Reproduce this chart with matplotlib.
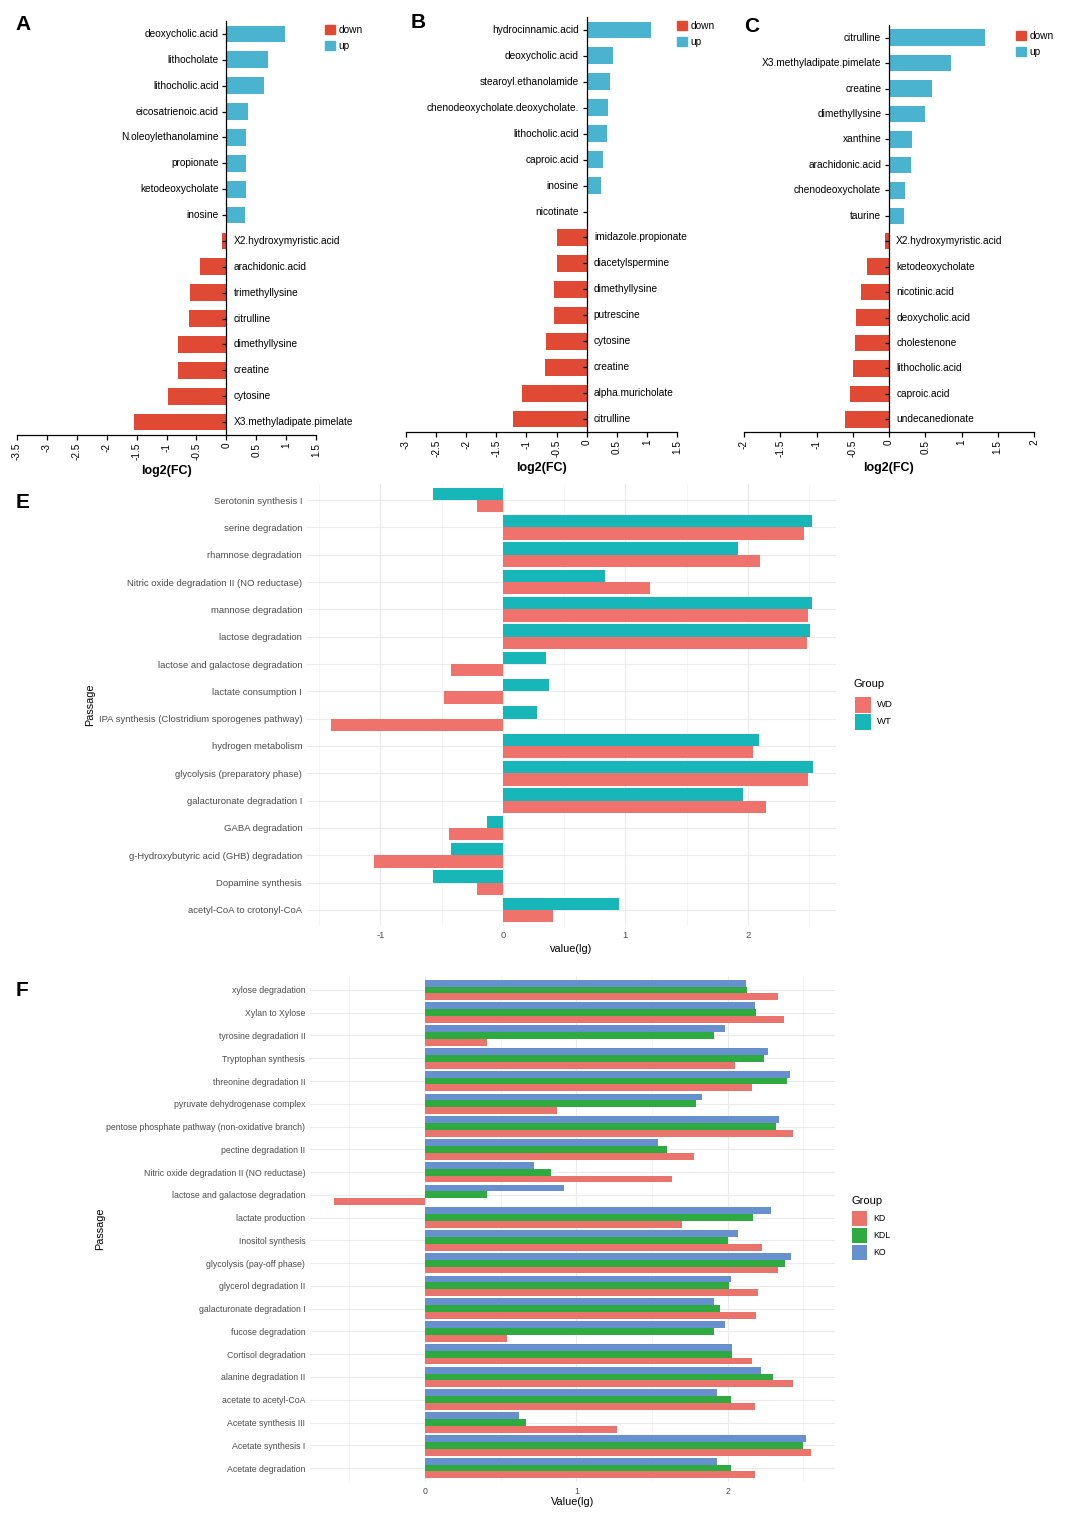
import matplotlib
matplotlib.use("Agg")
import matplotlib.pyplot as plt
from matplotlib.patches import Patch, Rectangle
import numpy as np

plt.rcParams['font.family'] = ['Liberation Sans', 'DejaVu Sans']

# ── 데이터 : A/B/C log2(FC) ─────────────────────────────────────────────
A_names = ["deoxycholic.acid", "lithocholate", "lithocholic.acid", "eicosatrienoic.acid",
           "N.oleoylethanolamine", "propionate", "ketodeoxycholate", "inosine",
           "X2.hydroxymyristic.acid", "arachidonic.acid", "trimethyllysine", "citrulline",
           "dimethyllysine", "creatine", "cytosine", "X3.methyladipate.pimelate"]
A_fc = [0.975, 0.70, 0.63, 0.36, 0.33, 0.33, 0.33, 0.32,
        -0.07, -0.445, -0.60, -0.63, -0.81, -0.81, -0.97, -1.55]

B_names = ["hydrocinnamic.acid", "deoxycholic.acid", "stearoyl.ethanolamide",
           "chenodeoxycholate.deoxycholate.", "lithocholic.acid", "caproic.acid", "inosine",
           "nicotinate", "imidazole.propionate", "diacetylspermine", "dimethyllysine",
           "putrescine", "cytosine", "creatine", "alpha.muricholate", "citrulline"]
B_fc = [1.07, 0.44, 0.39, 0.35, 0.33, 0.265, 0.23, 0.003,
        -0.49, -0.50, -0.54, -0.55, -0.67, -0.69, -1.07, -1.22]

C_names = ["citrulline", "X3.methyladipate.pimelate", "creatine", "dimethyllysine",
           "xanthine", "arachidonic.acid", "chenodeoxycholate", "taurine",
           "X2.hydroxymyristic.acid", "ketodeoxycholate", "nicotinic.acid", "deoxycholic.acid",
           "cholestenone", "lithocholic.acid", "caproic.acid", "undecanedionate"]
C_fc = [1.32, 0.85, 0.59, 0.50, 0.32, 0.31, 0.22, 0.21,
        -0.05, -0.30, -0.39, -0.46, -0.47, -0.49, -0.54, -0.61]

A_ticks = [-3.5, -3, -2.5, -2, -1.5, -1, -0.5, 0, 0.5, 1, 1.5]
B_ticks = [-3, -2.5, -2, -1.5, -1, -0.5, 0, 0.5, 1, 1.5]
C_ticks = [-2, -1.5, -1, -0.5, 0, 0.5, 1, 1.5, 2]

# ── 데이터 : E (WD / WT) ────────────────────────────────────────────────
E_names = ["Serotonin synthesis I", "serine degradation", "rhamnose degradation",
           "Nitric oxide degradation II (NO reductase)", "mannose degradation",
           "lactose degradation", "lactose and galactose degradation", "lactate consumption I",
           "IPA synthesis (Clostridium sporogenes pathway)", "hydrogen metabolism",
           "glycolysis (preparatory phase)", "galacturonate degradation I", "GABA degradation",
           "g-Hydroxybutyric acid (GHB) degradation", "Dopamine synthesis",
           "acetyl-CoA to crotonyl-CoA"]
E_WD = [-0.21, 2.46, 2.10, 1.20, 2.49, 2.48, -0.42, -0.48, -1.40, 2.04, 2.49, 2.15,
        -0.44, -1.05, -0.21, 0.41]
E_WT = [-0.57, 2.52, 1.92, 0.83, 2.52, 2.51, 0.35, 0.38, 0.28, 2.09, 2.53, 1.96,
        -0.13, -0.42, -0.57, 0.95]

# ── 데이터 : F (KD / KDL / KO) ──────────────────────────────────────────
F_names = ["xylose degradation", "Xylan to Xylose", "tyrosine degradation II",
           "Tryptophan synthesis", "threonine degradation II", "pyruvate dehydrogenase complex",
           "pentose phosphate pathway (non-oxidative branch)", "pectine degradation II",
           "Nitric oxide degradation II (NO reductase)", "lactose and galactose degradation",
           "lactate production", "Inositol synthesis", "glycolysis (pay-off phase)",
           "glycerol degradation II", "galacturonate degradation I", "fucose degradation",
           "Cortisol degradation", "alanine degradation II", "acetate to acetyl-CoA",
           "Acetate synthesis III", "Acetate synthesis I", "Acetate degradation"]
F_KD = [2.33, 2.37, 0.41, 2.05, 2.16, 0.87, 2.43, 1.78, 1.63, -0.60, 1.70, 2.23,
        2.33, 2.20, 2.19, 0.54, 2.16, 2.43, 2.18, 1.27, 2.55, 2.18]
F_KDL = [2.13, 2.19, 1.91, 2.24, 2.39, 1.79, 2.32, 1.60, 0.83, 0.41, 2.17, 2.00,
         2.38, 2.01, 1.95, 1.91, 2.03, 2.30, 2.02, 0.67, 2.50, 2.02]
F_KO = [2.12, 2.18, 1.98, 2.27, 2.41, 1.83, 2.34, 1.54, 0.72, 0.92, 2.29, 2.07,
        2.42, 2.02, 1.91, 1.98, 2.03, 2.22, 1.93, 0.62, 2.52, 1.93]

# ── 색상 ────────────────────────────────────────────────────────────────
C_DOWN, C_UP = "#E04A35", "#4AB3CF"
C_WD, C_WT = "#EF736C", "#17B6B9"
C_KD, C_KDL, C_KO = "#EA736B", "#2EAA40", "#6691CE"

W, H = 1080, 1530
fig = plt.figure(figsize=(W / 100, H / 100), dpi=100)


def px_axes(left, top, right, bottom):
    return fig.add_axes([left / W, 1 - bottom / H, (right - left) / W, (bottom - top) / H])


def fig_xy(x, y):
    return x / W, 1 - y / H


def fc_panel(box, names, fc, ticks, legend_xy, letter_xy, letter):
    ax = px_axes(*box)
    y = np.arange(len(names))
    cols = [C_UP if v >= 0 else C_DOWN for v in fc]
    ax.barh(y, fc, height=0.65, color=cols, zorder=1)
    ax.set_xlim(ticks[0], ticks[-1])
    ax.set_ylim(len(names) - 0.5, -0.5)
    for s in ("top", "right"):
        ax.spines[s].set_visible(False)
    ax.spines["left"].set_position(("data", 0))
    ax.spines["left"].set_linewidth(0.9)
    ax.spines["bottom"].set_linewidth(0.9)
    ax.set_yticks(y)
    ax.set_yticklabels([])
    ax.tick_params(axis="y", length=3.2, width=0.9)
    ax.set_xticks(ticks)
    ax.set_xticklabels([f"{t:g}" for t in ticks])
    ax.tick_params(axis="x", rotation=90, labelsize=7.2, length=3.5, width=0.9, pad=2)
    for i, (n, v) in enumerate(zip(names, fc)):
        if v >= 0:
            ax.annotate(n, (0, i), xytext=(-5.5, 0), textcoords="offset points",
                        ha="right", va="center", fontsize=7.3)
        else:
            ax.annotate(n, (0, i), xytext=(5.2, 0), textcoords="offset points",
                        ha="left", va="center", fontsize=7.3)
    ax.set_xlabel("log2(FC)", fontsize=9, fontweight="bold", labelpad=3.5)
    handles = [Patch(color=C_DOWN), Patch(color=C_UP)]
    fig.legend(handles, ["down", "up"], loc="upper left",
               bbox_to_anchor=fig_xy(*legend_xy),
               frameon=False, fontsize=7.3, handlelength=1.0, handleheight=1.0,
               handletextpad=0.3, labelspacing=0.55, borderpad=0, borderaxespad=0)
    fig.text(*fig_xy(*letter_xy), letter, fontsize=15,
             fontweight="bold", va="center", ha="left")


fc_panel((17, 21, 316, 435), A_names, A_fc, A_ticks, (325, 25), (15, 25), "A")
fc_panel((406, 17, 677, 432), B_names, B_fc, B_ticks, (677, 21), (411, 22), "B")
fc_panel((744, 25, 1034, 432), C_names, C_fc, C_ticks, (1016, 31), (744, 26), "C")


def group_legend(labels, colors, x, title_y, key_top, key_px, row_px, fs):
    # ggplot 스타일 범례 (제목 + 정사각형 키)
    fig.text(*fig_xy(x, title_y), "Group", fontsize=8, ha="left", va="center")
    for i, (lab, c) in enumerate(zip(labels, colors)):
        top = key_top + i * row_px
        x0, y0 = fig_xy(x + 1, top + key_px)
        fig.add_artist(Rectangle((x0, y0), key_px / W, key_px / H, transform=fig.transFigure,
                                 facecolor=c, edgecolor="none"))
        fig.text(*fig_xy(x + key_px + 7, top + key_px / 2), lab, fontsize=fs,
                 ha="left", va="center")


def group_panel(box, names, series, colors, labels, xlim, major, minor,
                ylab_x, xlab_y, letter_xy, letter, xlab, fs):
    ax = px_axes(*box)
    n, k = len(names), len(series)
    y = np.arange(n)
    w = 0.9 / k
    for j, (vals, c) in enumerate(zip(series, colors)):
        ax.barh(y + ((k - 1) / 2 - j) * w, vals, height=w, color=c, zorder=2)
    ax.set_xlim(*xlim)
    ax.set_ylim(n - 1 + 0.6, -0.6)
    ax.set_yticks(y)
    ax.set_yticklabels(names)
    ax.set_xticks(major)
    ax.set_xticklabels([f"{t:g}" for t in major])
    ax.set_xticks(minor, minor=True)
    ax.grid(which="major", color="#EBEBEB", lw=0.8)
    ax.grid(which="minor", axis="x", color="#F1F1F1", lw=0.5)
    ax.set_axisbelow(True)
    for s in ax.spines.values():
        s.set_visible(False)
    ax.tick_params(which="both", length=0, labelsize=fs, labelcolor="#4D4D4D", pad=3.5)
    left, top, right, bottom = box
    ax.set_ylabel("Passage", fontsize=7.8)
    ax.yaxis.set_label_coords((ylab_x - left) / (right - left), 0.5)
    ax.set_xlabel(xlab, fontsize=7.8)
    ax.xaxis.set_label_coords(0.5, -(xlab_y - bottom) / (bottom - top))
    fig.text(*fig_xy(*letter_xy), letter, fontsize=15,
             fontweight="bold", va="center", ha="left")


group_panel((307, 483.6, 836, 926.4), E_names, [E_WD, E_WT], [C_WD, C_WT], ["WD", "WT"],
            (-1.6, 2.72), [-1, 0, 1, 2], [-1.5, -0.5, 0.5, 1.5, 2.5],
            95, 944, (16, 502), "E", "value(lg)", 6.8)
group_legend(["WD", "WT"], [C_WD, C_WT], 854, 684, 697, 16, 17, 6.8)

group_panel((310, 976.3, 835, 1481.7), F_names, [F_KD, F_KDL, F_KO], [C_KD, C_KDL, C_KO],
            ["KD", "KDL", "KO"], (-0.76, 2.71), [0, 1, 2], [-0.5, 0.5, 1.5, 2.5],
            105, 1497, (16, 991), "F", "Value(lg)", 6.3)
group_legend(["KD", "KDL", "KO"], [C_KD, C_KDL, C_KO], 851, 1201, 1211, 15, 17, 6.3)

fig.savefig("out.png", dpi=100)
